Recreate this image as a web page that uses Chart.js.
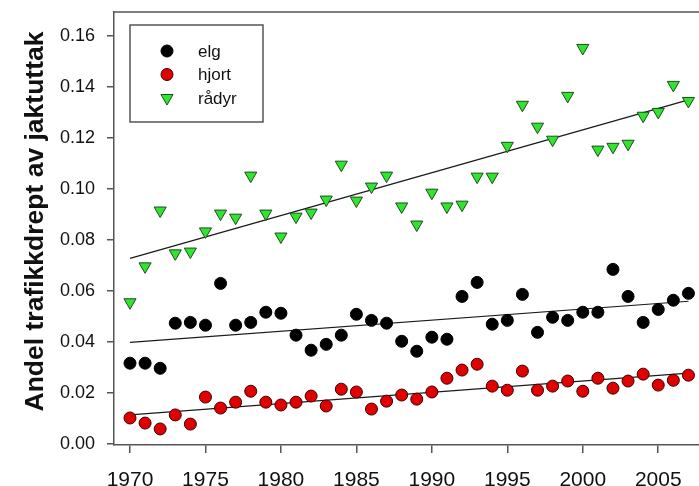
<!DOCTYPE html>
<html>
<head>
<meta charset="utf-8">
<script src="https://cdn.jsdelivr.net/npm/chart.js@4"></script>
<style>
  body { margin: 0; background: #fff; }
  canvas { display: block; }
</style>
</head>
<body>
<canvas id="chart" width="699" height="486"></canvas>
<script>
var FONT = "'Liberation Sans', Arial, sans-serif";
var AXIS = '#555';
var Y_TITLE = 'Andel trafikkdrept av jaktuttak';

var years = [1970, 1971, 1972, 1973, 1974, 1975, 1976, 1977, 1978, 1979,
  1980, 1981, 1982, 1983, 1984, 1985, 1986, 1987, 1988, 1989,
  1990, 1991, 1992, 1993, 1994, 1995, 1996, 1997, 1998, 1999,
  2000, 2001, 2002, 2003, 2004, 2005, 2006, 2007];

var elg = [0.0317, 0.0317, 0.0297, 0.0474, 0.0477, 0.0466, 0.0630, 0.0466, 0.0477, 0.0517,
  0.0513, 0.0427, 0.0368, 0.0391, 0.0427, 0.0509, 0.0485, 0.0474, 0.0403, 0.0364,
  0.0419, 0.0411, 0.0579, 0.0634, 0.0470, 0.0485, 0.0587, 0.0438, 0.0497, 0.0485,
  0.0517, 0.0517, 0.0685, 0.0579, 0.0477, 0.0528, 0.0564, 0.0591];

var hjort = [0.0102, 0.0082, 0.0059, 0.0114, 0.0078, 0.0184, 0.0141, 0.0164, 0.0207, 0.0164,
  0.0153, 0.0164, 0.0188, 0.0149, 0.0215, 0.0204, 0.0137, 0.0168, 0.0192, 0.0176,
  0.0204, 0.0258, 0.0290, 0.0313, 0.0227, 0.0211, 0.0286, 0.0211, 0.0227, 0.0247,
  0.0207, 0.0258, 0.0219, 0.0247, 0.0274, 0.0231, 0.0250, 0.0270];

var radyr = [0.0556, 0.0697, 0.0916, 0.0748, 0.0755, 0.0834, 0.0904, 0.0888, 0.1053, 0.0904,
  0.0814, 0.0892, 0.0908, 0.0959, 0.1096, 0.0955, 0.1010, 0.1053, 0.0932, 0.0861,
  0.0986, 0.0932, 0.0939, 0.1049, 0.1049, 0.1170, 0.1331, 0.1245, 0.1194, 0.1366,
  0.1554, 0.1155, 0.1166, 0.1178, 0.1288, 0.1303, 0.1409, 0.1346];

// regression lines at both ends
var trendYears = [1970, 2007];
var elgTrend = [0.0399, 0.0560];
var hjortTrend = [0.0114, 0.0278];
var radyrTrend = [0.0728, 0.1350];

var xTicks = [1970, 1975, 1980, 1985, 1990, 1995, 2000, 2005];
var yTicks = [0, 0.02, 0.04, 0.06, 0.08, 0.10, 0.12, 0.14, 0.16];

function pts(xs, ys) {
  return xs.map(function(x, i) { return {x: x, y: ys[i]}; });
}

function trend(ys) {
  return {
    type: 'line',
    data: pts(trendYears, ys),
    showLine: true,
    borderColor: '#1a1a1a',
    borderWidth: 1.2,
    pointRadius: 0,
    order: 1
  };
}

function noPad(s) {
  s.paddingLeft = 0;
  s.paddingRight = 0;
  s.paddingTop = 0;
  s.paddingBottom = 0;
}

// top frame line + y title (sits a bit above the axis centre in the original)
var frame = {
  id: 'frame',
  beforeDatasetsDraw: function(chart) {
    var c = chart.ctx, a = chart.chartArea;
    c.save();
    c.strokeStyle = AXIS;
    c.lineWidth = 1.5;
    c.beginPath();
    c.moveTo(a.left, a.top);
    c.lineTo(a.right, a.top);
    c.stroke();

    c.translate(36, (a.top + a.bottom) / 2 - 7);
    c.rotate(-Math.PI / 2);
    c.fillStyle = '#111';
    c.font = 'bold 26.5px ' + FONT;
    c.textAlign = 'center';
    c.textBaseline = 'middle';
    c.fillText(Y_TITLE, 0, 0);
    c.restore();
  }
};

var legendBox = {
  id: 'legendBox',
  afterDatasetsDraw: function(chart) {
    var c = chart.ctx, a = chart.chartArea;
    var x0 = a.left + 16, y0 = a.top + 13;
    c.save();
    c.strokeStyle = AXIS;
    c.lineWidth = 1.5;
    c.strokeRect(x0, y0, 133, 97);
    chart.data.datasets.filter(function(d) { return d.inLegend; }).forEach(function(ds, i) {
      var cy = y0 + 26 + i * 23.5;
      c.fillStyle = ds.backgroundColor;
      c.strokeStyle = ds.borderColor;
      c.lineWidth = ds.borderWidth;
      Chart.helpers.drawPoint(c, {
        pointStyle: ds.pointStyle,
        rotation: ds.rotation || 0,
        radius: ds.pointRadius,
        borderWidth: ds.borderWidth
      }, x0 + 37, cy);
      c.fillStyle = '#111';
      c.font = '17px ' + FONT;
      c.textBaseline = 'middle';
      c.textAlign = 'left';
      c.fillText(ds.label, x0 + 68, cy + 1);
    });
    c.restore();
  }
};

var chart = new Chart(document.getElementById('chart'), {
  type: 'scatter',
  data: {
    datasets: [
      {
        label: 'elg', inLegend: true, order: 0,
        data: pts(years, elg),
        pointStyle: 'circle', pointRadius: 6,
        backgroundColor: '#000', borderColor: '#000', borderWidth: 1
      },
      {
        label: 'hjort', inLegend: true, order: 0,
        data: pts(years, hjort),
        pointStyle: 'circle', pointRadius: 6,
        backgroundColor: '#e10000', borderColor: '#3a0000', borderWidth: 1
      },
      {
        label: 'rådyr', inLegend: true, order: 0,
        data: pts(years, radyr),
        pointStyle: 'triangle', rotation: 180, pointRadius: 7,
        backgroundColor: '#30e430', borderColor: '#1d4d1d', borderWidth: 1
      },
      trend(elgTrend),
      trend(hjortTrend),
      trend(radyrTrend)
    ]
  },
  options: {
    responsive: false,
    animation: false,
    events: [],
    layout: { autoPadding: false, padding: { left: 0, right: 0, top: 12, bottom: 0 } },
    plugins: {
      legend: { display: false },
      tooltip: { enabled: false }
    },
    scales: {
      x: {
        type: 'linear',
        min: 1968.94,
        max: 2007.7,
        afterBuildTicks: function(s) { s.ticks = xTicks.map(function(v) { return {value: v}; }); },
        afterFit: function(s) { s.height = 41; noPad(s); },
        grid: { drawOnChartArea: false, drawTicks: true, tickLength: 8, color: AXIS, lineWidth: 1.5 },
        border: { display: true, color: AXIS, width: 1.5 },
        ticks: {
          font: { family: FONT, size: 21 },
          color: '#111',
          padding: 15,
          maxRotation: 0,
          callback: function(v) { return String(v); }
        }
      },
      y: {
        type: 'linear',
        min: -0.0004,
        max: 0.1695,
        afterBuildTicks: function(s) { s.ticks = yTicks.map(function(v) { return {value: v}; }); },
        afterFit: function(s) { s.width = 114; noPad(s); },
        grid: { drawOnChartArea: false, drawTicks: true, tickLength: 7, color: AXIS, lineWidth: 1.5 },
        border: { display: true, color: AXIS, width: 1.5 },
        ticks: {
          font: { family: FONT, size: 18 },
          color: '#111',
          padding: 12,
          callback: function(v) { return v.toFixed(2); }
        }
      }
    }
  },
  plugins: [frame, legendBox]
});
</script>
</body>
</html>
